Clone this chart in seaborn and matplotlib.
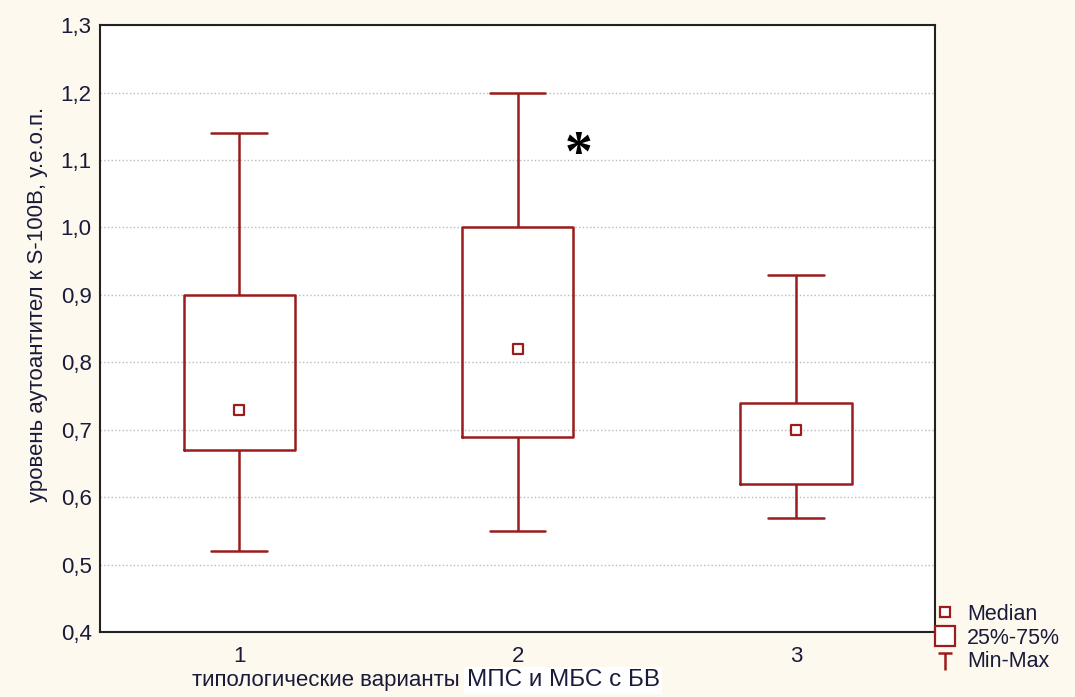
import numpy as np
import pandas as pd
import seaborn as sns
import matplotlib.pyplot as plt
from matplotlib.lines import Line2D
from matplotlib.path import Path

groups = ["1", "2", "3"]
# five-number summaries: min, q1, median, q3, max
mins = [0.52, 0.55, 0.57]
q1s = [0.67, 0.69, 0.62]
medians = [0.73, 0.82, 0.70]
q3s = [0.90, 1.00, 0.74]
maxs = [1.14, 1.20, 0.93]
yticks = [0.4, 0.5, 0.6, 0.7, 0.8, 0.9, 1.0, 1.1, 1.2, 1.3]

red = "#9b1c1c"
bg = "#fdf9ee"
txt = "#1a1a3a"

rows = []
for g, a, b, c, d, e in zip(groups, mins, q1s, medians, q3s, maxs):
    for v in (a, b, c, d, e):
        rows.append({"group": g, "value": v})
df = pd.DataFrame(rows)
med_df = pd.DataFrame({"group": groups, "value": medians})

sns.set_style("white")
plt.rcParams["font.family"] = ["Liberation Sans", "DejaVu Sans"]

fig = plt.figure(figsize=(10.75, 6.97), dpi=100, facecolor=bg)
ax = fig.add_axes([0.093, 0.093, 0.777, 0.871])
ax.set_facecolor("white")

sns.boxplot(data=df, x="group", y="value", order=groups, whis=np.inf,
            fill=False, color=red, width=0.4, linewidth=1.8,
            medianprops={"visible": False}, ax=ax)
sns.scatterplot(data=med_df, x="group", y="value", marker="s", s=45,
                facecolor="white", edgecolor=red, linewidth=1.6, zorder=5, ax=ax)

ax.set_ylim(0.4, 1.3)
ax.set_xlim(-0.5, 2.5)
ax.set_yticks(yticks)
ax.set_yticklabels([f"{t:.1f}".replace(".", ",") for t in yticks], fontsize=16, color=txt)
ax.set_xticks(range(len(groups)))
ax.set_xticklabels(groups, fontsize=16, color=txt)
ax.tick_params(direction="in", length=4, color="#444444")
ax.tick_params(axis="y", pad=6)
ax.tick_params(axis="x", pad=10)
ax.yaxis.grid(True, linestyle=":", color="#bbbbbb", linewidth=1)
ax.set_axisbelow(True)
for sp in ax.spines.values():
    sp.set_color("#222222")
    sp.set_linewidth(1.5)

ax.set_xlabel("")
ax.set_ylabel("уровень аутоантител к S-100B, у.е.о.п.", fontsize=16, color=txt)
ax.yaxis.set_label_coords(-0.062, 0.54)

fig.text(0.179, 0.008, "типологические варианты", fontsize=16, ha="left", va="bottom", color=txt)
fig.text(0.434, 0.008, "МПС и МБС с БВ", fontsize=17.5, ha="left", va="bottom", color=txt,
         bbox=dict(facecolor="white", edgecolor="none", pad=2))

ax.text(1.22, 1.106, "*", fontsize=40, fontweight="bold", ha="center", va="center",
        family="Liberation Serif", color="black")

cap_marker = Path([(-1, 1), (1, 1), (0, 1), (0, -1.6)],
                  [Path.MOVETO, Path.LINETO, Path.MOVETO, Path.LINETO])
handles = [
    Line2D([], [], linestyle="none", marker="s", markersize=7,
           markerfacecolor="white", markeredgecolor=red, markeredgewidth=1.6),
    Line2D([], [], linestyle="none", marker="s", markersize=15,
           markerfacecolor="white", markeredgecolor=red, markeredgewidth=1.6),
    Line2D([], [], linestyle="none", marker=cap_marker, markersize=15,
           markerfacecolor="none", markeredgecolor=red, markeredgewidth=1.8),
]
fig.legend(handles, ["Median", "25%-75%", "Min-Max"], loc="lower left",
           bbox_to_anchor=(0.853, 0.014), frameon=False, fontsize=15.5,
           handlelength=1.2, handletextpad=0.44, labelspacing=0.12,
           labelcolor=txt, borderpad=0.2)

fig.savefig("out.png", dpi=100, facecolor=bg)
